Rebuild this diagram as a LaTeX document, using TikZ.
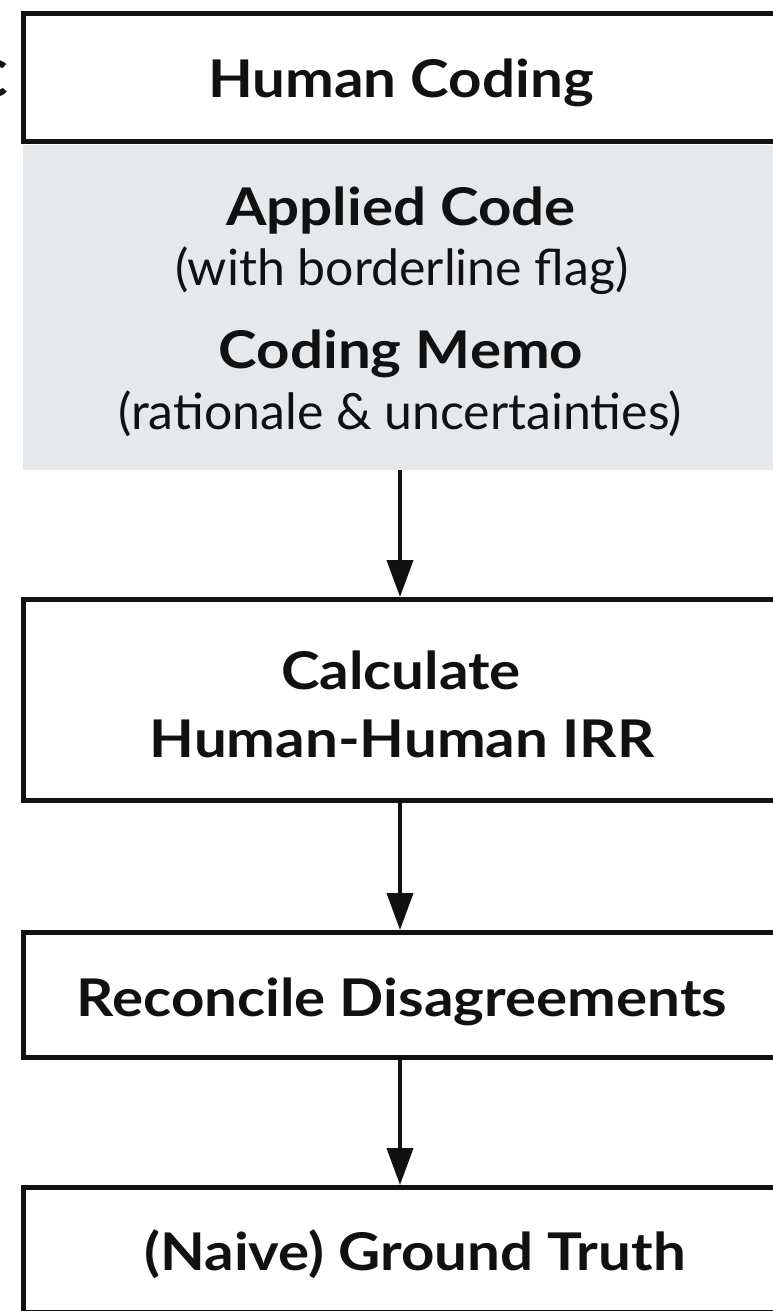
\documentclass[tikz,border=0pt]{standalone}
\usepackage{fontspec}
\setmainfont{Lato}
\newfontfamily\lblbold{Lato}[FakeStretch=1.12]
\usetikzlibrary{arrows.meta}
\definecolor{ink}{HTML}{111111}
\definecolor{memogray}{HTML}{E6E9EC}
\tikzset{
  x=1pt, y=1pt,
  stepbox/.style={draw=ink, line width=5pt, fill=white, minimum width=753pt, inner sep=0pt, text=ink},
  boldlbl/.style={font=\lblbold\fontsize{52}{60}\selectfont\bfseries, text=ink, inner sep=0pt, anchor=base},
  reglbl/.style={font=\fontsize{50}{58}\selectfont, text=ink, inner sep=0pt, anchor=base},
  memobox/.style={fill=memogray, draw=none, inner sep=0pt},
  flow/.style={draw=ink, line width=4pt, -{Triangle[length=37pt,width=26pt]}},
}
\begin{document}
\begin{tikzpicture}
\useasboundingbox (0,0) rectangle (773,-1311);
\clip (0,0) rectangle (773,-1311);
\fill[white] (0,0) rectangle (773,-1311);
% partial letter at left edge
\node[boldlbl, anchor=base east] (frag) at (8,-98) {C};
% Human Coding box
\node[stepbox, minimum height=128pt] (hc) at (400,-77.5) {};
\node[boldlbl] (hclbl) at (401,-98) {Human Coding};
% memo area
\node[memobox, minimum width=760pt, minimum height=325pt] (memo) at (403,-307.5) {};
\node[boldlbl] (applied) at (401,-225) {Applied Code};
\node[reglbl] (flag) at (402,-285) {(with borderline flag)};
\node[boldlbl] (codingmemo) at (401,-368) {Coding Memo};
\node[reglbl] (rationale) at (400,-429) {(rationale \& uncertainties)};
% Calculate IRR
\node[stepbox, minimum height=201pt] (irr) at (400,-700) {};
\node[boldlbl] (calc) at (401,-689) {Calculate};
\node[boldlbl] (hhirr) at (402,-757) {Human-Human IRR};
% Reconcile
\node[stepbox, minimum height=125pt] (rec) at (400,-995) {};
\node[boldlbl] (reclbl) at (402,-1016) {Reconcile Disagreements};
% Ground truth
\node[stepbox, minimum height=125pt] (gt) at (400,-1250) {};
\node[boldlbl] (gtlbl) at (415,-1270) {(Naive) Ground Truth};
% connectors
\draw[flow] (memo.south -| hc.south) -- (irr.north);
\draw[flow] (irr.south) -- (rec.north);
\draw[flow] (rec.south) -- (gt.north);
\end{tikzpicture}
\end{document}
